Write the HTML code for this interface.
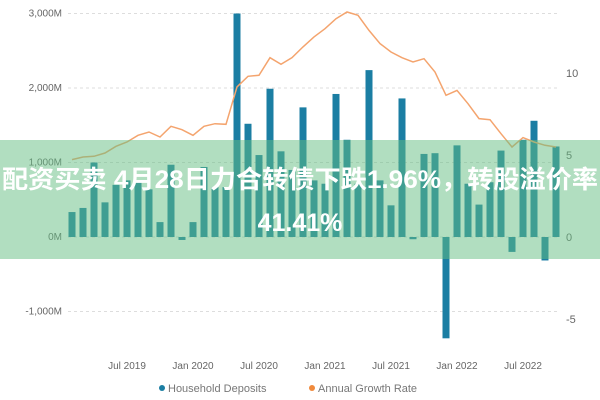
<!DOCTYPE html>
<html><head><meta charset="utf-8"><style>
body{margin:0;background:#fff;}
svg{display:block;font-family:"Liberation Sans","Noto Sans CJK SC",sans-serif;}
</style></head><body>
<svg id="chart" width="600" height="400" viewBox="0 0 600 400" xmlns="http://www.w3.org/2000/svg">
<g id="grid"></g>
<g id="bars"></g>
<path id="line" fill="none" stroke="#f4a46e" stroke-width="1.5"/>
<g id="axes" font-size="10" fill="#666"></g>
<g font-size="11" fill="#777">
<circle cx="162" cy="388" r="3" fill="#1b7ea3"/>
<text x="168" y="392">Household Deposits</text>
<circle cx="312" cy="388" r="3" fill="#f08a3c"/>
<text x="318" y="392">Annual Growth Rate</text>
</g>
<g>
<rect x="0" y="140" width="600" height="119" fill="rgb(100,190,130)" fill-opacity="0.5"/>
<text x="2" y="188" font-size="25" font-weight="bold" fill="#fff" textLength="596" lengthAdjust="spacingAndGlyphs">配资买卖 4月28日力合转债下跌1.96%，转股溢价率</text>
<text x="300" y="231" font-size="25" font-weight="bold" fill="#fff" text-anchor="middle">41.41%</text>
</g>
</svg>
<script>
const deposits=[335,390,1000,465,700,760,760,640,200,970,-40,200,940,670,670,3000,1520,1100,1990,1150,900,1740,760,715,1920,1305,715,2240,760,425,1860,-30,1115,1125,-1360,1230,715,435,735,1160,-200,1305,1560,-315,1215];
const growth=[4.72,4.88,4.92,5.12,5.53,5.79,6.2,6.4,6.1,6.75,6.54,6.2,6.75,6.91,6.87,9.15,9.8,9.86,10.93,10.53,10.93,11.59,12.2,12.7,13.31,13.72,13.52,12.6,11.79,11.28,10.93,10.67,10.87,10.06,8.64,8.94,8.13,7.22,7.15,6.3,5.49,6.06,5.79,5.59,5.49];
const leftTicks=[3000,2000,1000,0,-1000];
const leftLabels=["3,000M","2,000M","1,000M","0M","-1,000M"];
const rightTicks=[10,5,0,-5];
const xTickIdx=[5,11,17,23,29,35,41];
const xTickLabels=["Jul 2019","Jan 2020","Jul 2020","Jan 2021","Jul 2021","Jan 2022","Jul 2022"];
const NS="http://www.w3.org/2000/svg";
const yL=v=>237-v*0.0745;
const yR=v=>237-v*16.4;
const xB=i=>72+i*11;
function mk(tag,attrs,parent){const e=document.createElementNS(NS,tag);for(const k in attrs)e.setAttribute(k,attrs[k]);parent.appendChild(e);return e;}
const grid=document.getElementById('grid'),bars=document.getElementById('bars'),axes=document.getElementById('axes');
leftTicks.forEach((t,i)=>{
 const g=mk('line',{x1:68,x2:558,y1:yL(t),y2:yL(t),stroke:'#ddd','stroke-dasharray':'3,3'},grid);
 
 
 const tx=mk('text',{x:62,y:yL(t)+3,'text-anchor':'end'},axes);tx.textContent=leftLabels[i];
 
 
});
rightTicks.forEach(t=>{
 const tx=mk('text',{x:566,y:yR(t)+4,'font-size':11},axes);tx.textContent=String(t);
 
 
});
xTickIdx.forEach((idx,i)=>{
 const tx=mk('text',{x:xB(idx),y:369,'text-anchor':'middle'},axes);tx.textContent=xTickLabels[i];
 
 
});
deposits.forEach((v,i)=>{
 const y0=yL(0),y1=yL(v);
 const r=mk('rect',{x:xB(i)-3.5,width:7,y:Math.min(y0,y1),height:Math.max(1.5,Math.abs(y1-y0)),fill:'#1b7ea3'},bars);
 
 
});
document.getElementById('line').setAttribute('d',growth.map((v,i)=>(i?'L':'M')+xB(i)+','+yR(v).toFixed(1)).join(' '));
</script>
</body></html>
